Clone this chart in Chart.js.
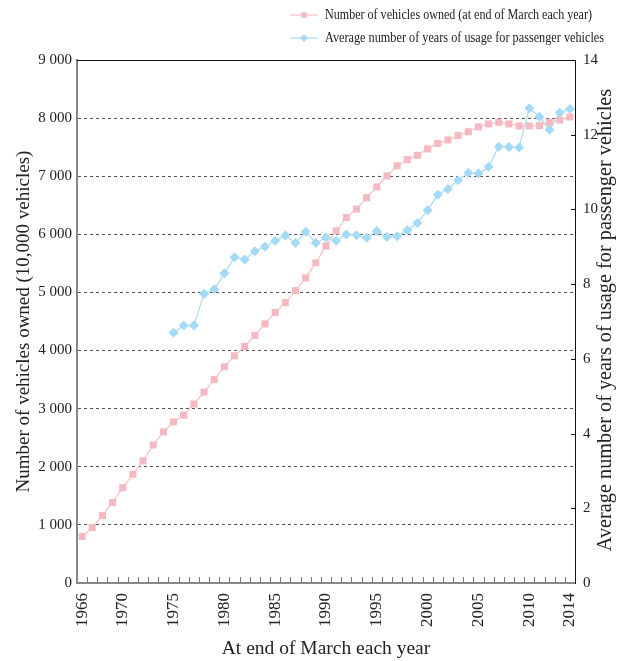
<!DOCTYPE html>
<html>
<head>
  <title>Vehicles owned and years of usage</title>
  <script src="https://cdn.jsdelivr.net/npm/chart.js"></script>
  <style>
    body { margin: 0; background: #fff; }
  </style>
</head>
<body>
<canvas id="myChart" width="623" height="661"></canvas>

<script>
// categories: end of March each year
var years = ['1966', '1967', '1968', '1969', '1970', '1971', '1972', '1973', '1974', '1975',
             '1976', '1977', '1978', '1979', '1980', '1981', '1982', '1983', '1984', '1985',
             '1986', '1987', '1988', '1989', '1990', '1991', '1992', '1993', '1994', '1995',
             '1996', '1997', '1998', '1999', '2000', '2001', '2002', '2003', '2004', '2005',
             '2006', '2007', '2008', '2009', '2010', '2011', '2012', '2013', '2014'];

// years that get a label on the x axis
var shownYears = ['1966', '1970', '1975', '1980', '1985', '1990', '1995', '2000', '2005', '2010', '2014'];

// number of vehicles owned (10,000 vehicles)
var vehiclesOwned = [800, 955, 1160, 1385, 1640, 1870, 2100, 2375, 2600, 2770,
                     2890, 3080, 3285, 3500, 3720, 3910, 4070, 4260, 4460, 4655,
                     4825, 5030, 5250, 5510, 5800, 6060, 6290, 6435, 6630, 6815,
                     7005, 7180, 7285, 7360, 7470, 7565, 7625, 7700, 7765, 7850,
                     7900, 7930, 7900, 7865, 7865, 7870, 7930, 7965, 8020];

// average years of usage for passenger vehicles (no data before 1975)
var yearsOfUsage = [null, null, null, null, null, null, null, null, null, 6.70,
                    6.89, 6.89, 7.74, 7.86, 8.29, 8.72, 8.66, 8.88, 9.00, 9.16,
                    9.30, 9.10, 9.40, 9.10, 9.25, 9.16, 9.33, 9.31, 9.24, 9.42,
                    9.26, 9.28, 9.44, 9.64, 9.98, 10.39, 10.55, 10.78, 10.98, 10.96,
                    11.14, 11.68, 11.67, 11.66, 12.71, 12.48, 12.13, 12.59, 12.69];

var seriesNames = ['Number of vehicles owned (at end of March each year)',
                   'Average number of years of usage for passenger vehicles'];

var serif = '"Liberation Serif", "DejaVu Serif", serif';
Chart.defaults.font.family = serif;
Chart.defaults.color = '#222';

// axis lines, small tick marks, legend and the right title
var decorPlugin = {
  id: 'decor',
  afterDraw: function(chart) {
    var ctx = chart.ctx;
    var area = chart.chartArea;
    var xs = chart.scales.x;
    var y2 = chart.scales.y2;
    ctx.save();

    // top frame line
    ctx.strokeStyle = '#111';
    ctx.lineWidth = 1;
    ctx.beginPath();
    ctx.moveTo(area.left, area.top + 0.5);
    ctx.lineTo(area.right, area.top + 0.5);
    ctx.stroke();

    // year ticks pointing up from the x axis
    ctx.strokeStyle = '#777';
    ctx.beginPath();
    for (var i = 0; i < years.length - 1; i++) {
      var px = Math.round((xs.getPixelForValue(i) + xs.getPixelForValue(i + 1)) / 2) + 0.5;
      ctx.moveTo(px, area.bottom);
      ctx.lineTo(px, area.bottom - 6);
    }
    ctx.stroke();

    // inward ticks on the right axis
    ctx.strokeStyle = '#111';
    ctx.beginPath();
    for (var v = 2; v <= 12; v += 2) {
      var py = Math.round(y2.getPixelForValue(v)) + 0.5;
      ctx.moveTo(area.right, py);
      ctx.lineTo(area.right - 4, py);
    }
    ctx.stroke();

    // legend
    var rowY = [15, 38];
    ctx.font = '15px ' + serif;
    ctx.textBaseline = 'middle';
    ctx.textAlign = 'left';
    for (var k = 0; k < 2; k++) {
      var ds = chart.data.datasets[k];
      ctx.strokeStyle = ds.borderColor;
      ctx.lineWidth = 1.3;
      ctx.beginPath();
      ctx.moveTo(290, rowY[k]);
      ctx.lineTo(318, rowY[k]);
      ctx.stroke();
      ctx.fillStyle = ds.pointBackgroundColor;
      Chart.helpers.drawPoint(ctx, {pointStyle: ds.pointStyle, radius: ds.pointRadius - 1, borderWidth: 0}, 304, rowY[k]);
      ctx.fillStyle = '#222';
      var w = ctx.measureText(seriesNames[k]).width;
      var target = k === 0 ? 267 : 279;
      ctx.save();
      ctx.translate(325, rowY[k]);
      ctx.scale(target / w, 1);
      ctx.fillText(seriesNames[k], 0, 0);
      ctx.restore();
    }

    // right axis title, reading bottom to top
    ctx.save();
    ctx.translate(606, 320);
    ctx.rotate(-Math.PI / 2);
    ctx.textAlign = 'center';
    ctx.textBaseline = 'middle';
    ctx.font = '20.3px ' + serif;
    ctx.fillStyle = '#222';
    ctx.fillText('Average number of years of usage for passenger vehicles', 0, 0);
    ctx.restore();

    ctx.restore();
  }
};

var ctx = document.getElementById('myChart').getContext('2d');
var chart = new Chart(ctx, {
  type: 'line',
  data: {
    labels: years,
    datasets: [
      {
        label: seriesNames[0],
        data: vehiclesOwned,
        yAxisID: 'y',
        borderColor: '#F8C3C9',
        backgroundColor: '#F5B9C1',
        pointBackgroundColor: '#F5B9C1',
        pointBorderWidth: 0,
        pointStyle: 'rect',
        pointRadius: 5,
        borderWidth: 1.3,
        tension: 0
      },
      {
        label: seriesNames[1],
        data: yearsOfUsage,
        yAxisID: 'y2',
        borderColor: '#ABDDF6',
        backgroundColor: '#A3DAF7',
        pointBackgroundColor: '#A3DAF7',
        pointBorderWidth: 0,
        pointStyle: 'rectRot',
        pointRadius: 5,
        borderWidth: 1.3,
        tension: 0
      }
    ]
  },
  options: {
    responsive: false,
    animation: false,
    layout: { padding: { top: 60 } },
    plugins: {
      legend: { display: false },
      tooltip: { enabled: false }
    },
    scales: {
      x: {
        type: 'category',
        offset: true,
        grid: { display: false, drawTicks: false },
        border: { color: '#888', width: 2 },
        ticks: {
          autoSkip: false,
          maxRotation: 90,
          minRotation: 90,
          padding: 10,
          font: { size: 17 },
          color: '#222',
          callback: function(value) {
            var y = this.getLabelForValue(value);
            return shownYears.indexOf(y) >= 0 ? y : '';
          }
        },
        title: {
          display: true,
          text: 'At end of March each year',
          font: { size: 19.5 },
          color: '#222',
          padding: { top: 0, bottom: 0 }
        },
        afterFit: function(scale) { scale.height = 78; }
      },
      y: {
        position: 'left',
        min: 0,
        max: 9000,
        grid: {
          drawTicks: false,
          color: function(c) {
            var v = c.tick ? c.tick.value : 0;
            return (v === 0 || v === 9000) ? 'rgba(0,0,0,0)' : '#555';
          },
          lineWidth: 1
        },
        border: { color: '#888', width: 2, dash: [3, 3] },
        ticks: {
          stepSize: 1000,
          padding: 5,
          font: { size: 15 },
          color: '#222',
          callback: function(v) {
            return v === 0 ? '0' : (v / 1000) + ' 000';
          }
        },
        title: {
          display: true,
          text: 'Number of vehicles owned (10,000 vehicles)',
          font: { size: 19 },
          color: '#222',
          padding: { top: 13, bottom: 0 }
        },
        afterFit: function(scale) { scale.width = 77; }
      },
      y2: {
        position: 'right',
        min: 0,
        max: 14,
        grid: { drawOnChartArea: false, drawTicks: false },
        border: { color: '#111', width: 1 },
        ticks: {
          stepSize: 2,
          padding: 8,
          font: { size: 15 },
          color: '#222'
        },
        afterFit: function(scale) { scale.width = 48; }
      }
    }
  },
  plugins: [decorPlugin]
});
</script>
</body>
</html>
